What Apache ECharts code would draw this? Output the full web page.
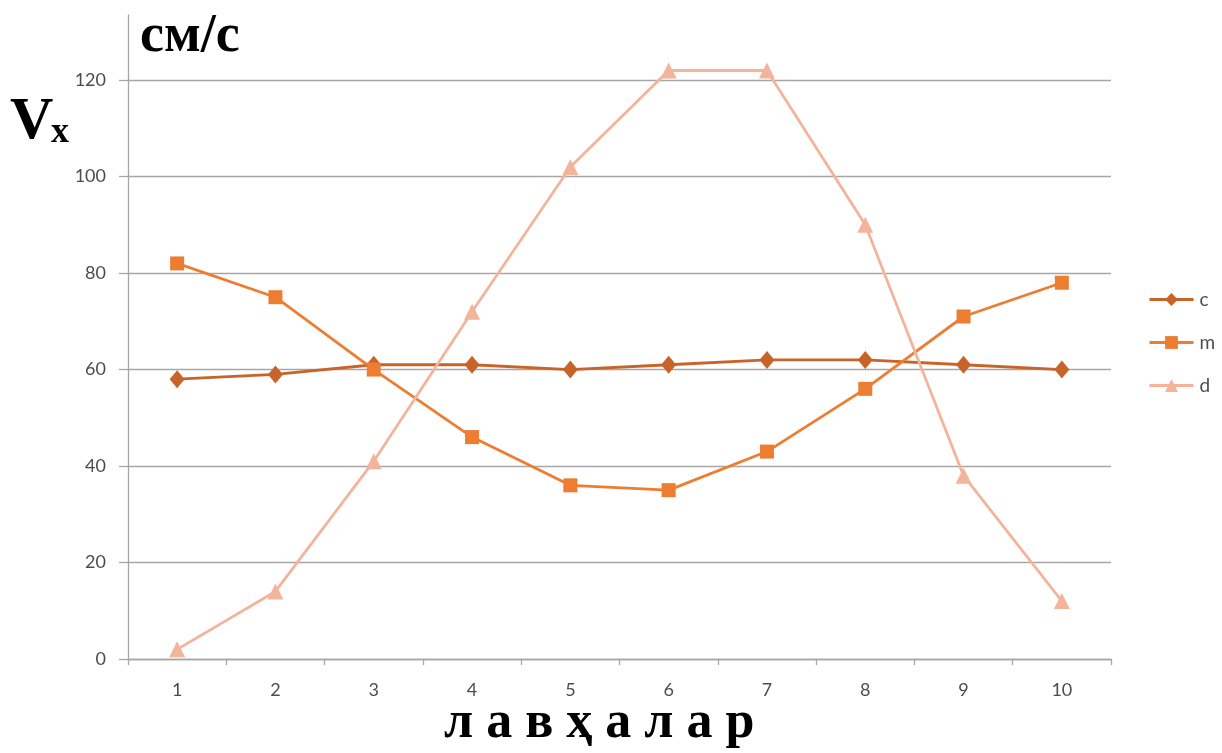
<!DOCTYPE html>
<html>
<head>
<meta charset="utf-8">
<title>Vx</title>
<script src="https://cdn.jsdelivr.net/npm/echarts@6/dist/echarts.min.js"></script>
<style>
  html, body { margin: 0; padding: 0; background: #ffffff; }
  #chart { width: 1222px; height: 753px; }
</style>
</head>
<body>
<div id="chart"></div>
<script>
// Stage numbers along the horizontal axis
const stages = ['1', '2', '3', '4', '5', '6', '7', '8', '9', '10'];

// Velocity values (cm/s) per series
const seriesC = [58, 59, 61, 61, 60, 61, 62, 62, 61, 60];
const seriesM = [82, 75, 60, 46, 36, 35, 43, 56, 71, 78];
const seriesD = [2, 14, 41, 72, 102, 122, 122, 90, 38, 12];

const seriesNames = ['c', 'm', 'd'];

// Value axis: gridlines every 20 up to 120, the axis line runs a bit higher
const yTickStep = 20;
const yTickMax = 120;
const yAxisTop = 133.5;

const W = 1222, H = 753;
const gridLeft = 128, gridRight = 111, gridTop = 15, gridBottom = 94;
const plotH = H - gridTop - gridBottom;
// the labelled grid covers 0..yTickMax on the same pixel scale
const tickGridTop = gridTop + plotH * (yAxisTop - yTickMax) / yAxisTop;

const axisGray = '#a6a6a6';
const labelGray = '#4d4d4d';
const labelFont = 'Lato, "Open Sans", sans-serif';
const titleFont = '"Liberation Serif", "DejaVu Serif", serif';

const chart = echarts.init(document.getElementById('chart'), null, { renderer: 'canvas' });

function lineSeries(name, data, color, symbol, size) {
  return {
    name: name,
    type: 'line',
    xAxisIndex: 0,
    yAxisIndex: 0,
    data: data,
    symbol: symbol,
    symbolSize: size,
    showSymbol: true,
    lineStyle: { color: color, width: 2.8 },
    itemStyle: { color: color },
    emphasis: { disabled: true },
    z: 3
  };
}

const option = {
  backgroundColor: '#ffffff',
  animation: false,
  grid: [
    { left: gridLeft, right: gridRight, top: gridTop, bottom: gridBottom },
    { left: gridLeft, right: gridRight, top: tickGridTop, bottom: gridBottom }
  ],
  xAxis: [
    {
      type: 'category',
      gridIndex: 0,
      data: stages,
      boundaryGap: true,
      axisLine: { show: true, lineStyle: { color: axisGray, width: 1.3 } },
      axisTick: { show: true, length: 6, lineStyle: { color: axisGray, width: 1.3 } },
      axisLabel: { color: labelGray, fontSize: 18, fontFamily: labelFont, margin: 22 },
      splitLine: { show: false }
    },
    {
      type: 'category',
      gridIndex: 1,
      data: stages,
      show: false
    }
  ],
  yAxis: [
    {
      type: 'value',
      gridIndex: 0,
      min: 0,
      max: yAxisTop,
      axisLine: { show: true, lineStyle: { color: axisGray, width: 1.3 } },
      axisTick: { show: false },
      axisLabel: { show: false },
      splitLine: { show: false }
    },
    {
      type: 'value',
      gridIndex: 1,
      min: 0,
      max: yTickMax,
      interval: yTickStep,
      axisLine: { show: false },
      axisTick: { show: true, length: 9, lineStyle: { color: axisGray, width: 1.3 } },
      axisLabel: { color: labelGray, fontSize: 18, fontFamily: labelFont, margin: 22 },
      splitLine: { show: true, lineStyle: { color: axisGray, width: 1.3 } }
    }
  ],
  legend: {
    orient: 'vertical',
    left: 1143,
    top: 285,
    itemWidth: 44,
    itemHeight: 16,
    itemGap: 24,
    lineStyle: { width: 3 },
    textStyle: { color: labelGray, fontSize: 19, fontFamily: labelFont, padding: [0, 0, 0, 1] },
    data: seriesNames,
    selectedMode: false
  },
  series: [
    lineSeries(seriesNames[0], seriesC, '#c8642a', 'diamond', [15, 18]),
    lineSeries(seriesNames[1], seriesM, '#ed7d31', 'rect', 14),
    lineSeries(seriesNames[2], seriesD, '#f4b49c', 'triangle', 16)
  ],
  graphic: [
    {
      type: 'text',
      left: 140,
      top: 10,
      style: { text: 'см/с', font: 'bold 54px ' + titleFont, fill: '#000000' }
    },
    {
      type: 'text',
      left: 10,
      top: 92,
      style: { text: 'V', font: 'bold 60px ' + titleFont, fill: '#000000' }
    },
    {
      type: 'text',
      left: 51,
      top: 115,
      style: { text: 'x', font: 'bold 36px ' + titleFont, fill: '#000000' }
    },
    {
      type: 'text',
      left: 444,
      top: 698,
      style: { text: 'л а в ҳ а л а р', font: 'bold 52px ' + titleFont, fill: '#000000' }
    }
  ]
};

chart.setOption(option);
</script>
</body>
</html>
